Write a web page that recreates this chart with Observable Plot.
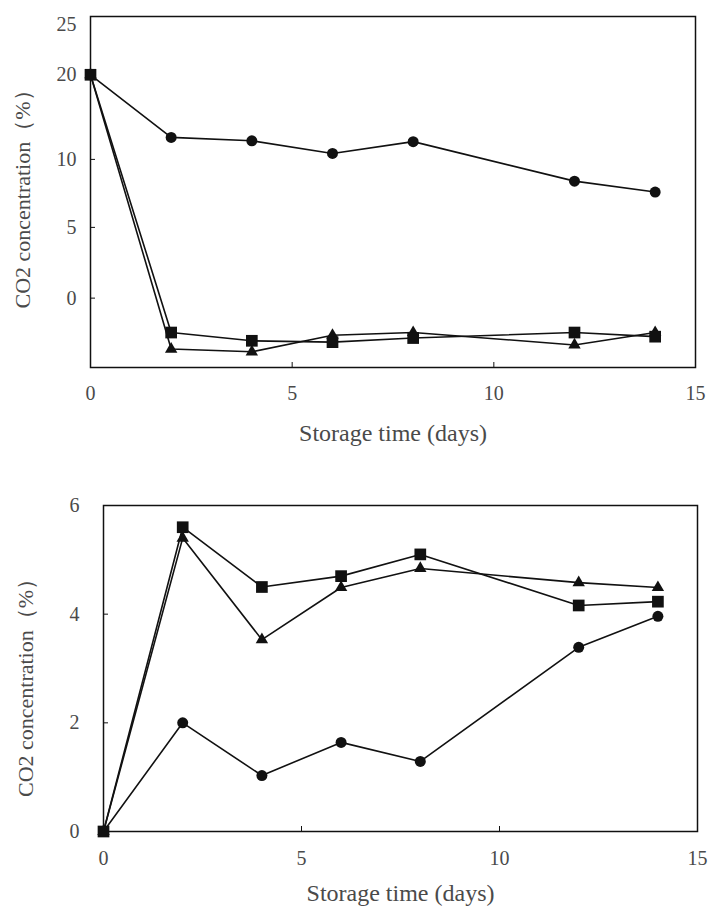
<!DOCTYPE html>
<html>
<head>
<meta charset="utf-8">
<script src="https://cdn.jsdelivr.net/npm/d3@7"></script>
<script src="https://cdn.jsdelivr.net/npm/@observablehq/plot@0.6"></script>
<style>
  html, body { margin: 0; padding: 0; background: #fff; }
  #chart { width: 708px; height: 907px; overflow: hidden; }
  #chart svg { display: block; }
</style>
</head>
<body>
<div id="chart"></div>
<script>
// ---- Data ----
const days = [0, 2, 4, 6, 8, 12, 14];
const seriesNames = ["circle", "triangle", "square"];

// Upper panel: CO2 concentration (%)
const topCircle   = [20, 12.6, 12.2, 10.7, 12.1, 8.4, 7.6];
const topTriangle = [20, -3.7, -3.9, -2.7, -2.5, -3.4, -2.5];
const topSquare   = [20, -2.5, -3.1, -3.2, -2.9, -2.5, -2.8];

// Lower panel: CO2 concentration (%)
const botCircle   = [0, 2.0, 1.03, 1.64, 1.29, 3.39, 3.96];
const botTriangle = [0, 5.4, 3.53, 4.49, 4.84, 4.58, 4.49];
const botSquare   = [0, 5.6, 4.5, 4.7, 5.1, 4.16, 4.23];

// Tick labels
const topYTicks = [0, 5, 10, 20, 25];
const topYTickMarks = [0, 5, 10, 20];
const botYTicks = [0, 2, 4, 6];
const botYTickMarks = [2, 4];
const xTicks = [0, 5, 10, 15];
const xTickMarks = [5, 10];

const yLabel = "CO2 concentration（%）";
const xLabel = "Storage time (days)";

function rows(c, t, s) {
  const out = [];
  [c, t, s].forEach((vals, i) => vals.forEach((v, j) => out.push({day: days[j], value: v, series: seriesNames[i]})));
  return out;
}

const FONT = "'Liberation Serif', 'DejaVu Serif', serif";
const TXT = "#4a4a4a";

// The upper panel's printed axis is not evenly spaced (25, 20, 10, 5, 0):
// a piecewise warp places each printed value where the original axis shows it.
const topAxisWarp = d3.scaleLinear()
  .domain([-5, 0, 5, 10, 20, 25])
  .range([-4.96, 0, 5.1, 10, 16.1, 19.7]);

function panel({data, height, margins, y, yTicks, yTickMarks, yPad, xPad, yLabelDx, yLabelDy, xLabelDy}) {
  const sym = {circle: 5.5, triangle: 4.6, square: 6.6};
  const marks = [
    Plot.frame({stroke: "#111", strokeWidth: 1.5}),
    // inward tick marks
    Plot.axisY(yTickMarks, {anchor: "left", tickSize: 5, dx: 5, tickFormat: () => "", label: null, stroke: "#111"}),
    Plot.axisX(xTickMarks, {anchor: "bottom", tickSize: 5, dy: -5, tickFormat: () => "", label: null, stroke: "#111"}),
    // tick labels
    Plot.axisY(yTicks, {anchor: "left", tickSize: 0, tickPadding: yPad, label: null, tickFormat: d => String(d), fontSize: 20, fill: TXT, fontFamily: FONT}),
    Plot.axisX(xTicks, {anchor: "bottom", tickSize: 0, tickPadding: xPad, label: null, tickFormat: d => String(d), fontSize: 20, fill: TXT, fontFamily: FONT}),
    // axis titles
    Plot.text([yLabel], {text: d => d, frameAnchor: "left", textAnchor: "middle", lineAnchor: "middle", rotate: -90, dx: yLabelDx, dy: yLabelDy, fontSize: 22, fill: TXT, fontFamily: FONT}),
    Plot.text([xLabel], {text: d => d, frameAnchor: "bottom", textAnchor: "middle", lineAnchor: "middle", dy: xLabelDy, fontSize: 24, fill: TXT, fontFamily: FONT}),
    // data
    Plot.line(data, {x: "day", y: "value", z: "series", stroke: "#111", strokeWidth: 1.6}),
  ];
  for (const s of seriesNames) {
    marks.push(Plot.dot(data.filter(d => d.series === s), {x: "day", y: "value", symbol: s, r: sym[s], fill: "#111", stroke: "none"}));
  }
  return Plot.plot({
    width: 708,
    height,
    ...margins,
    x: {domain: [0, 15]},
    y,
    style: {fontFamily: FONT, background: "white", color: TXT},
    marks
  });
}

const topPanel = panel({
  data: rows(topCircle, topTriangle, topSquare),
  height: 465,
  margins: {marginTop: 16, marginBottom: 98, marginLeft: 90, marginRight: 13},
  y: {domain: [-5, 20.3], transform: topAxisWarp},
  yTicks: topYTicks, yTickMarks: topYTickMarks,
  yPad: 14, xPad: 18, yLabelDx: -68, yLabelDy: 2, xLabelDy: 66
});

const bottomPanel = panel({
  data: rows(botCircle, botTriangle, botSquare),
  height: 442,
  margins: {marginTop: 40, marginBottom: 76, marginLeft: 103, marginRight: 11},
  y: {domain: [0, 6]},
  yTicks: botYTicks, yTickMarks: botYTickMarks,
  yPad: 24, xPad: 19, yLabelDx: -78, yLabelDy: 14, xLabelDy: 62
});

document.getElementById("chart").append(topPanel, bottomPanel);
</script>
</body>
</html>
